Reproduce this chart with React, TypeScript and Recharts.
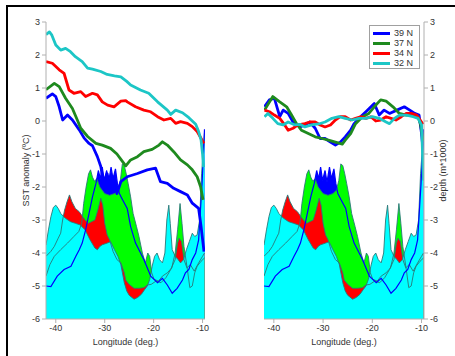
import React from 'react';
import { ComposedChart, Area, Line, XAxis, YAxis } from 'recharts';

type Pt = [number, number];

// ---- categories / ticks ----
const latitudes = ['39 N', '37 N', '34 N', '32 N'];
const xTicks = [-40, -30, -20, -10];
const yTicks = [-6, -5, -4, -3, -2, -1, 0, 1, 2, 3];

// ---- SST anomaly, left panel: [longitude, anomaly] ----
const sstLeft39: Pt[] = [[-42,0.69],[-40.7,0.82],[-40,0.74],[-39.3,0.43],[-38.6,0.03],[-37.6,0.18],[-36.6,0.03],[-35.2,-0.27],[-34.2,-0.52],[-33.2,-0.68],[-32.5,-0.75],[-31.5,-1.08],[-30.8,-1.38],[-30.2,-1.9],[-29.5,-1.6],[-28.8,-2.1],[-28.2,-1.7],[-27.5,-2.2],[-26.7,-1.84],[-25.4,-1.69],[-23.3,-1.59],[-21.3,-1.48],[-19.6,-1.43],[-18.6,-1.84],[-17.2,-1.89],[-15.9,-2.04],[-14.5,-2.14],[-13.1,-2.24],[-12.1,-2.49],[-10.8,-2.65],[-10.3,-3.2],[-9.7,-3.96]];
const sstLeft37: Pt[] = [[-42,0.95],[-40.3,1.14],[-39.3,1.04],[-38,0.69],[-36.6,0.38],[-35.6,0.03],[-34.9,-0.22],[-33.5,-0.47],[-31.8,-0.68],[-30.5,-0.73],[-28.8,-0.83],[-27.5,-1.0],[-26.5,-1.2],[-25.7,-1.36],[-24.7,-1.18],[-23.3,-1.08],[-22,-0.93],[-20.3,-0.86],[-18.9,-0.73],[-18.2,-0.63],[-17.2,-0.73],[-15.9,-0.93],[-14.5,-1.18],[-13.1,-1.33],[-12.1,-1.48],[-11.1,-1.69],[-10.4,-1.99],[-9.9,-2.39]];
const sstLeft34: Pt[] = [[-42,1.8],[-40.7,1.75],[-39.3,1.55],[-38.3,1.44],[-37.3,0.94],[-36.3,0.84],[-34.9,0.89],[-33.9,0.74],[-32.5,0.84],[-31.5,0.79],[-30.5,0.58],[-29.4,0.48],[-28.1,0.43],[-26.7,0.6],[-25.7,0.62],[-25.4,0.58],[-23.7,0.43],[-22,0.33],[-20.6,0.28],[-19.2,0.13],[-17.9,0.03],[-16.5,0.08],[-15.5,-0.07],[-14.5,-0.02],[-13.1,-0.07],[-12.1,-0.17],[-11.1,-0.32],[-10.1,-0.58],[-9.7,-0.68]];
const sstLeft32: Pt[] = [[-42,2.62],[-41.3,2.7],[-40.8,2.6],[-40,2.3],[-39,2.15],[-38,2.2],[-37,2.1],[-36,1.95],[-34.6,1.8],[-33.5,1.6],[-32.5,1.57],[-30.8,1.5],[-29.5,1.41],[-28,1.37],[-26.7,1.34],[-25.5,1.2],[-24.7,1.09],[-22.7,0.94],[-21,0.84],[-19.2,0.58],[-17.2,0.33],[-16.5,0.2],[-15.5,0.33],[-14.1,0.25],[-12.8,0.1],[-11.4,-0.1],[-10.8,-0.32],[-10.3,-0.58],[-10.0,-1.0],[-9.8,-1.4]];

// ---- SST anomaly, right panel ----
const sstRight39: Pt[] = [[-41.9,0.43],[-40.9,0.64],[-39.9,0.69],[-38.8,0.13],[-38.1,0.33],[-37.1,0.23],[-36.1,-0.03],[-34.7,-0.18],[-33.7,-0.12],[-32.7,-0.03],[-31.6,-0.22],[-30.6,-0.53],[-29.6,-0.53],[-28.5,-0.64],[-27.5,-0.73],[-26.5,-0.64],[-25.5,-0.48],[-24.4,-0.28],[-23.7,-0.08],[-22.7,0.08],[-21.3,0.28],[-19.6,0.53],[-18.6,0.18],[-17.6,0.33],[-16.5,0.23],[-15,0.33],[-13.5,0.43],[-12.4,0.33],[-11.4,0.23],[-10.5,0.18],[-10,-0.38],[-9.6,-1.0]];
const sstRight37: Pt[] = [[-41.9,0.33],[-40.2,0.74],[-38.8,0.58],[-37.4,0.43],[-36.4,0.18],[-35.4,-0.08],[-34.4,-0.28],[-33,-0.38],[-31.6,-0.48],[-30.2,-0.53],[-28.9,-0.58],[-27.5,-0.64],[-26.1,-0.7],[-25.5,-0.58],[-24.4,-0.38],[-23.4,-0.08],[-22,0.13],[-20.7,0.23],[-19.6,0.43],[-18.3,0.64],[-17.2,0.6],[-15.8,0.43],[-14.5,0.23],[-13.1,0.18],[-11.7,0.18],[-10.7,0.13],[-10.2,-0.1],[-9.7,-0.6]];
const sstRight34: Pt[] = [[-41.9,0.33],[-40.9,0.28],[-39.9,0.18],[-38.8,0.08],[-37.8,-0.12],[-37.1,-0.28],[-36.1,-0.22],[-35.1,-0.12],[-33.7,-0.08],[-32.7,-0.03],[-31.6,-0.03],[-30.6,-0.12],[-29.6,-0.18],[-28.5,-0.12],[-27.5,0.03],[-26.5,0.13],[-25.5,0.13],[-24.4,0.03],[-23.4,0.08],[-22.4,0.13],[-21.3,0.08],[-20.3,0.13],[-19.3,0.0],[-18.3,0.03],[-17.2,0.13],[-16.2,0.08],[-15.2,0.03],[-14.1,0.13],[-13.1,0.23],[-12.1,0.23],[-11,0.18],[-10,-0.03],[-9.7,-0.1]];
const sstRight32: Pt[] = [[-41.9,0.13],[-41.2,0.23],[-40.2,0.08],[-39.2,-0.08],[-38.1,-0.12],[-37.1,-0.03],[-35.7,-0.12],[-34.7,-0.1],[-33.7,-0.18],[-32.3,-0.12],[-30.9,-0.09],[-29.6,-0.03],[-28.2,0.08],[-26.8,0.13],[-25.5,0.08],[-24.1,0.03],[-22.7,0.08],[-21.3,0.08],[-20,0.13],[-18.6,0.08],[-17.2,-0.03],[-16.5,-0.08],[-15.5,0.08],[-14.5,0.18],[-13.1,0.18],[-11.7,0.13],[-10.7,0.08],[-10,-0.12],[-9.6,-1.8]];

// ---- bathymetry (depth, m*1000), same in both panels ----
const depth39: Pt[] = [[-42,-5.0],[-41,-5.02],[-39.7,-4.7],[-38.3,-4.5],[-36.9,-4.4],[-35.9,-4.1],[-35.2,-3.9],[-34.6,-3.7],[-33.9,-3.3],[-33.2,-2.8],[-32.5,-2.3],[-31.8,-1.9],[-31.3,-1.5],[-30.9,-1.75],[-30.5,-1.4],[-30.1,-1.8],[-29.6,-1.5],[-29.2,-1.85],[-28.7,-1.4],[-28.3,-1.75],[-27.8,-1.45],[-27.4,-1.9],[-27,-2.2],[-26.3,-2.4],[-25.4,-2.65],[-24.7,-3.2],[-23.7,-3.7],[-22,-4.2],[-20.6,-4.7],[-19.2,-4.9],[-18.2,-4.77],[-17.2,-4.97],[-16.2,-5.22],[-15.2,-5.07],[-14.1,-4.82],[-13.5,-4.6],[-12.8,-4.5],[-12.1,-4.2],[-11.4,-4.0],[-10.8,-3.6],[-10.1,-1.9],[-9.6,-0.25]];
const depth37: Pt[] = [[-42,-4.7],[-41.2,-4.35],[-40.3,-4.1],[-39,-3.9],[-37.6,-3.7],[-36.3,-3.5],[-35.3,-3.35],[-34.7,-3.1],[-34.3,-2.5],[-33.8,-2.0],[-33.3,-1.6],[-32.9,-1.48],[-32.5,-1.7],[-32.1,-1.82],[-31.6,-1.75],[-31,-2.0],[-30,-2.2],[-29,-2.25],[-28,-2.2],[-27.3,-2.1],[-26.8,-1.8],[-26.4,-1.3],[-26,-1.35],[-25.6,-1.6],[-25.2,-1.9],[-24.7,-2.3],[-24.2,-2.8],[-23.5,-3.2],[-23,-3.5],[-22.3,-4.0],[-21.7,-4.3],[-21.2,-4.0],[-20.8,-4.1],[-20.4,-4.6],[-19.9,-4.8],[-19,-4.85],[-18.2,-4.7],[-17.2,-4.6],[-16.3,-4.45],[-15.6,-4.0],[-15.1,-3.3],[-14.6,-2.5],[-14.2,-3.1],[-13.8,-3.8],[-13.1,-4.5],[-12.6,-5.05],[-12.1,-5.0],[-11.6,-4.6],[-11.1,-4.4],[-10.3,-4.25],[-9.6,-4.15]];
const depth34: Pt[] = [[-42,-4.1],[-41,-3.95],[-40.3,-3.8],[-39.5,-3.55],[-39,-3.4],[-38.6,-3.0],[-38.2,-2.7],[-37.7,-2.45],[-37.2,-2.24],[-36.7,-2.45],[-36,-2.65],[-35.2,-2.75],[-34.5,-2.9],[-34,-3.0],[-33.3,-3.1],[-32.7,-3.05],[-32,-3.0],[-31.4,-2.7],[-30.8,-2.34],[-30.4,-2.55],[-30,-3.1],[-29.5,-3.45],[-29,-3.6],[-28.3,-3.95],[-27.5,-4.2],[-26.7,-4.3],[-26,-4.6],[-25.7,-4.82],[-25,-4.95],[-24,-5.07],[-23,-5.07],[-22,-5.05],[-21.3,-4.97],[-20.5,-4.95],[-19.5,-4.85],[-18.5,-4.9],[-17.5,-4.75],[-16.5,-4.5],[-15.6,-4.2],[-15.1,-3.7],[-14.8,-3.55],[-14.3,-3.65],[-13.8,-4.2],[-13.2,-4.45],[-12.5,-4.35],[-11.7,-4.55],[-10.8,-4.3],[-10,-4.1],[-9.6,-4.0]];
const depth32: Pt[] = [[-42,-3.76],[-41.5,-3.3],[-41,-2.9],[-40.5,-2.62],[-40,-2.55],[-39.5,-2.65],[-39,-2.8],[-38.5,-2.88],[-38,-2.95],[-37,-3.05],[-36,-3.1],[-35,-3.15],[-34,-3.3],[-33,-3.6],[-32,-3.85],[-31.5,-3.9],[-31,-3.8],[-30.5,-3.75],[-29.5,-3.7],[-28.8,-3.66],[-28,-3.9],[-27.3,-4.1],[-26.7,-4.35],[-26,-4.9],[-25.5,-5.15],[-25,-5.28],[-24,-5.4],[-23.3,-5.35],[-22.5,-5.25],[-21.8,-5.1],[-21.3,-5.0],[-20.8,-4.8],[-20.3,-4.4],[-19.8,-4.1],[-19.3,-4.0],[-18.8,-4.2],[-18.2,-4.3],[-17.7,-4.0],[-17.3,-3.0],[-16.9,-2.55],[-16.6,-3.1],[-16.2,-3.9],[-15.6,-4.1],[-15,-4.2],[-14.5,-4.3],[-13.9,-4.2],[-13.3,-3.9],[-12.7,-3.65],[-12.1,-3.4],[-11.6,-3.5],[-11.1,-3.45],[-10.6,-3.0],[-10.2,-1.6],[-9.6,-0.35]];

// ---- styles ----
const SST_COLORS = ['#0000ff', '#1e8a1e', '#ff0000', '#1cc6c6'];
const FILL_COLORS = ['#0000ff', '#00ff00', '#ff0000', '#00ffff'];
const OUTLINE = '#2a7878';
const AXIS = '#b0b0b0';
const TEXT = '#333333';
const FONT = '"Liberation Sans", Arial, sans-serif';

function buildRows(series: Record<string, Pt[]>) {
  const map = new Map<number, any>();
  for (const [key, pts] of Object.entries(series)) {
    for (const [lon, v] of pts) {
      const row = map.get(lon) ?? { lon };
      row[key] = v;
      map.set(lon, row);
    }
  }
  return Array.from(map.values()).sort((a, b) => a.lon - b.lon);
}

const tickStyle = { fontSize: 9, fill: TEXT, fontFamily: FONT };

function Panel(props: { sst: Pt[][]; side: 'left' | 'right' }) {
  const { sst, side } = props;
  const data = buildRows({
    d39: depth39, d37: depth37, d34: depth34, d32: depth32,
    s39: sst[0], s37: sst[1], s34: sst[2], s32: sst[3],
  });
  const isLeft = side === 'left';
  const width = isLeft ? 230 : 225;
  const margin = isLeft
    ? { top: 22, right: 25, bottom: 7, left: 16 }
    : { top: 22, right: 6, bottom: 7, left: 34 };
  const depthKeys = ['d39', 'd37', 'd34', 'd32'];
  const sstKeys = ['s39', 's37', 's34', 's32'];
  return (
    <ComposedChart width={width} height={356} data={data} margin={margin}>
      <XAxis
        dataKey="lon" type="number" domain={[-42, -9.5]} ticks={xTicks}
        allowDataOverflow height={30} tickSize={4}
        stroke={AXIS} tick={tickStyle} tickLine={{ stroke: AXIS }}
        label={{ value: 'Longitude (deg.)', position: 'insideBottom', offset: 4, fontSize: 9, fill: TEXT, fontFamily: FONT }}
      />
      <YAxis
        type="number" domain={[-6, 3]} ticks={yTicks} allowDataOverflow
        orientation={isLeft ? 'left' : 'right'} width={isLeft ? 30 : 25} tickSize={4}
        stroke={AXIS} tick={tickStyle} tickLine={{ stroke: AXIS }}
        label={isLeft
          ? { value: 'SST anomaly (ºC)', angle: -90, position: 'insideLeft', offset: 10, fontSize: 9, fill: TEXT, fontFamily: FONT, style: { textAnchor: 'middle' } }
          : { value: 'depth (m*1000)', angle: -90, position: 'insideRight', offset: 6, fontSize: 9, fill: TEXT, fontFamily: FONT, style: { textAnchor: 'middle' } }}
      />
      {depthKeys.map((k, i) => (
        <Area
          key={k} dataKey={k} type="linear" baseValue={-6} connectNulls
          fill={FILL_COLORS[i]} fillOpacity={1}
          stroke={i === 3 ? OUTLINE : 'none'} strokeWidth={0.9}
          dot={false} activeDot={false} isAnimationActive={false}
        />
      ))}
      {['d37', 'd34'].map((k) => (
        <Line key={'o' + k} dataKey={k} type="linear" connectNulls stroke={OUTLINE} strokeWidth={0.9}
          dot={false} activeDot={false} isAnimationActive={false} />
      ))}
      <Line dataKey="d39" type="linear" connectNulls stroke="#0000ff" strokeWidth={1.2}
        dot={false} activeDot={false} isAnimationActive={false} />
      {sstKeys.map((k, i) => (
        <Line key={k} dataKey={k} type="linear" connectNulls stroke={SST_COLORS[i]} strokeWidth={2.8}
          strokeLinejoin="round" dot={false} activeDot={false} isAnimationActive={false} />
      ))}
    </ComposedChart>
  );
}

function LegendBox() {
  return (
    <div style={{ position: 'absolute', left: 369, top: 25, width: 49, height: 42, border: '1px solid #a0a0a0', background: '#fff' }}>
      {latitudes.map((lab, i) => (
        <div key={lab} style={{ position: 'absolute', left: 3, top: 2 + i * 10, height: 10, display: 'flex', alignItems: 'center' }}>
          <div style={{ width: 17, height: 3, background: SST_COLORS[i] }} />
          <span style={{ marginLeft: 4, fontSize: 9, lineHeight: '10px', color: TEXT, fontFamily: FONT }}>{lab}</span>
        </div>
      ))}
    </div>
  );
}

export default function App() {
  return (
    <div style={{ position: 'absolute', left: 0, top: 0, width: 455, height: 356, overflow: 'hidden', background: '#fff', fontFamily: FONT }}>
      <div style={{ position: 'absolute', left: 6, top: 5, width: 500, height: 400, borderTop: '2px solid #000', borderLeft: '2px solid #000' }} />
      <div style={{ position: 'absolute', left: 0, top: 0 }}>
        <Panel sst={[sstLeft39, sstLeft37, sstLeft34, sstLeft32]} side="left" />
      </div>
      <div style={{ position: 'absolute', left: 230, top: 0 }}>
        <Panel sst={[sstRight39, sstRight37, sstRight34, sstRight32]} side="right" />
      </div>
      <LegendBox />
    </div>
  );
}
